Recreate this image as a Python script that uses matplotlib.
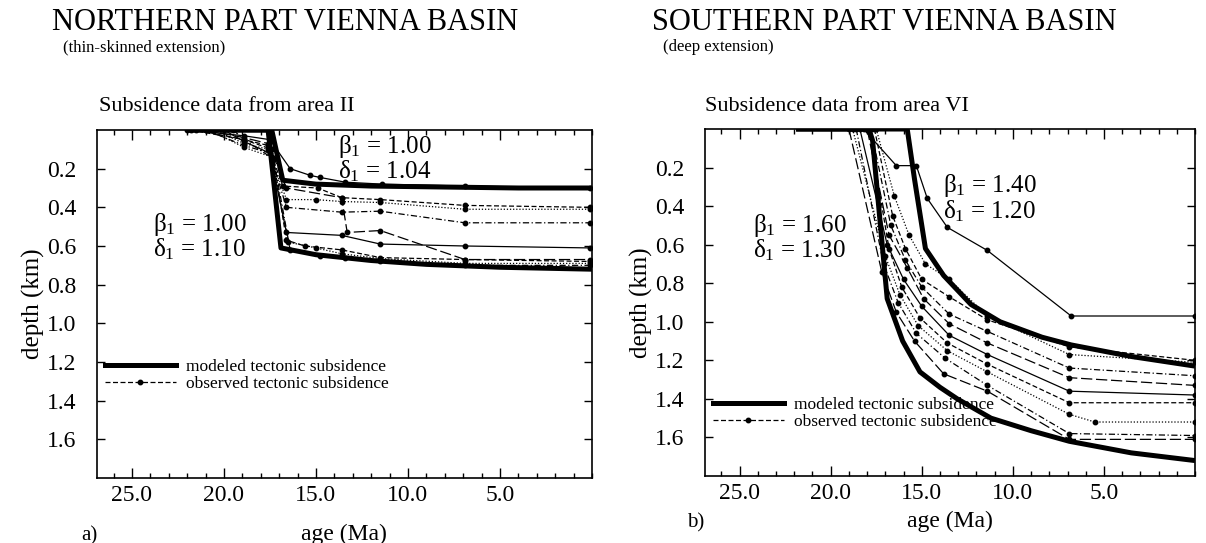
import numpy as np
import matplotlib
matplotlib.use("Agg")
import matplotlib.pyplot as plt
from matplotlib.lines import Line2D

plt.rcParams['font.family'] = ['Liberation Serif', 'DejaVu Serif']
plt.rcParams['mathtext.fontset'] = 'custom'
plt.rcParams['mathtext.rm'] = 'Liberation Serif'
plt.rcParams['mathtext.it'] = 'Liberation Serif'

# ---- data: age (Ma) / depth (km) ----
# northern part, area II
north_model_upper_age = [22.0, 17.4, 16.8, 15.0, 12.0, 8.0, 4.0, 0.0]
north_model_upper_dep = [0.0, 0.0, 0.26, 0.28, 0.29, 0.295, 0.30, 0.30]
north_model_lower_age = [22.0, 17.6, 16.9, 15.0, 12.0, 9.0, 5.0, 0.0]
north_model_lower_dep = [0.0, 0.0, 0.61, 0.645, 0.675, 0.695, 0.71, 0.72]

north_obs_ages = [
    [22.0, 18.9, 17.5, 16.4, 15.3, 14.8, 13.4, 11.4, 6.9, 0.1],
    [21.5, 18.9, 17.6, 16.8, 14.9, 13.6, 11.5, 6.9, 0.1],
    [20.5, 18.9, 17.6, 16.6, 15.0, 13.6, 11.5, 6.9, 0.1],
    [21.0, 18.9, 17.5, 16.6, 13.6, 11.5, 6.9, 0.1],
    [21.0, 18.9, 17.6, 16.6, 13.6, 13.3, 11.5, 6.9, 0.1],
    [20.0, 18.9, 17.5, 16.6, 13.6, 11.5, 6.9, 0.1],
    [21.8, 18.9, 17.4, 16.6, 15.6, 13.6, 11.5, 6.9, 0.1],
    [20.8, 18.9, 17.4, 16.5, 15.0, 13.6, 11.5, 6.9, 0.1],
    [19.5, 18.9, 17.3, 16.4, 14.8, 13.4, 11.5, 6.9, 0.1],
]
north_obs_deps = [
    [0.00, 0.03, 0.05, 0.20, 0.235, 0.245, 0.27, 0.28, 0.29, 0.30],
    [0.00, 0.05, 0.08, 0.29, 0.30, 0.35, 0.36, 0.39, 0.40],
    [0.00, 0.07, 0.10, 0.36, 0.36, 0.37, 0.375, 0.41, 0.41],
    [0.00, 0.08, 0.12, 0.40, 0.425, 0.42, 0.48, 0.48],
    [0.00, 0.04, 0.07, 0.30, 0.35, 0.53, 0.52, 0.67, 0.67],
    [0.00, 0.06, 0.12, 0.53, 0.545, 0.59, 0.60, 0.61],
    [0.00, 0.05, 0.10, 0.57, 0.60, 0.62, 0.66, 0.67, 0.68],
    [0.00, 0.09, 0.14, 0.58, 0.61, 0.64, 0.665, 0.69, 0.69],
    [0.00, 0.05, 0.15, 0.62, 0.65, 0.66, 0.68, 0.70, 0.70],
]

# southern part, area VI
south_model_deep_age = [21.9, 17.9, 17.7, 16.9, 16.05, 15.1, 14.0, 13.05, 11.2, 9.0, 6.9, 3.5, 0.0]
south_model_deep_dep = [0.0, 0.0, 0.06, 0.88, 1.10, 1.26, 1.34, 1.40, 1.50, 1.565, 1.62, 1.68, 1.72]
south_model_shal_age = [21.9, 15.8, 15.4, 14.8, 13.8, 12.3, 10.7, 8.4, 6.8, 3.5, 0.0]
south_model_shal_dep = [0.0, 0.0, 0.26, 0.62, 0.76, 0.91, 1.00, 1.08, 1.12, 1.18, 1.23]

south_obs_ages = [
    [18.2, 16.4, 15.3, 14.7, 13.6, 11.4, 6.8, 0.0],
    [17.6, 16.6, 15.9, 15.0, 13.5, 11.4, 6.9, 0.0],
    [17.5, 16.5, 15.7, 14.8, 13.5, 11.4, 6.9, 0.0],
    [17.8, 16.7, 15.9, 15.0, 13.5, 11.4, 6.9, 0.0],
    [18.0, 16.8, 15.8, 14.9, 13.5, 11.4, 6.9, 0.0],
    [18.4, 16.9, 16.0, 15.0, 13.5, 11.4, 6.9, 0.0],
    [17.9, 16.8, 16.1, 15.1, 13.6, 11.4, 6.9, 0.0],
    [18.8, 17.0, 16.2, 15.2, 13.6, 11.4, 6.9, 5.5, 0.0],
    [18.6, 17.1, 16.3, 15.3, 13.7, 11.4, 6.9, 0.0],
    [19.0, 17.2, 16.4, 15.4, 13.8, 11.4, 6.9, 0.0],
]
south_obs_deps = [
    [0.00, 0.19, 0.19, 0.36, 0.51, 0.63, 0.97, 0.97],
    [0.00, 0.45, 0.62, 0.78, 0.87, 0.99, 1.13, 1.20],
    [0.00, 0.35, 0.55, 0.70, 0.78, 0.97, 1.17, 1.21],
    [0.00, 0.50, 0.68, 0.82, 0.96, 1.05, 1.24, 1.28],
    [0.00, 0.55, 0.72, 0.88, 1.01, 1.11, 1.29, 1.33],
    [0.00, 0.60, 0.78, 0.92, 1.07, 1.17, 1.36, 1.38],
    [0.00, 0.62, 0.82, 0.98, 1.11, 1.22, 1.42, 1.42],
    [0.00, 0.66, 0.86, 1.02, 1.15, 1.26, 1.48, 1.52, 1.52],
    [0.00, 0.70, 0.90, 1.06, 1.19, 1.33, 1.58, 1.59],
    [0.00, 0.74, 0.95, 1.10, 1.27, 1.36, 1.61, 1.61],
]

obs_styles = ['-', (0, (4, 2)), (0, (1, 1.5)), (0, (5, 2, 1, 2)), (0, (9, 3)),
              '-', (0, (4, 2)), (0, (1, 1.5)), (0, (5, 2, 1, 2)), (0, (9, 3))]

fig = plt.figure(figsize=(12.06, 5.43), dpi=100)
ax1 = fig.add_axes([0.0804, 0.1197, 0.4104, 0.6409])
ax2 = fig.add_axes([0.5846, 0.1234, 0.4063, 0.639])


def draw_panel(ax, m_list, obs_a, obs_d, xlabelpad):
    for i in range(len(obs_a)):
        ax.plot(obs_a[i], obs_d[i], color='black', lw=0.9, ls=obs_styles[i % len(obs_styles)],
                marker='o', ms=3.2)
    for a, d in m_list:
        ax.plot(a, d, color='black', lw=3.6, solid_capstyle='butt')
    ax.set_xlim(26.9, 0)
    ax.set_ylim(1.8, 0)
    ax.set_xticks([25, 20, 15, 10, 5])
    ax.set_xticklabels(['25.0', '20.0', '15.0', '10.0', '5.0'])
    ax.set_xticks(np.arange(0, 27, 1), minor=True)
    ax.set_yticks([0.2, 0.4, 0.6, 0.8, 1.0, 1.2, 1.4, 1.6])
    ax.tick_params(axis='both', which='both', direction='in', top=True, right=True,
                   labelsize=17, width=1.0)
    ax.tick_params(axis='x', which='major', length=7, pad=5)
    ax.tick_params(axis='x', which='minor', length=3.5)
    ax.tick_params(axis='y', which='major', length=6, pad=15)
    for s in ax.spines.values():
        s.set_linewidth(1.2)
    ax.set_xlabel('age (Ma)', fontsize=17, labelpad=xlabelpad)
    ax.set_ylabel('depth (km)', fontsize=18, labelpad=1)
    handles = [Line2D([], [], color='black', lw=3.6),
               Line2D([], [], color='black', lw=0.9, ls=(0, (4, 2)), marker='o', ms=3.2)]
    return handles


leg_kw = dict(loc='upper left', frameon=False, fontsize=12.5, handlelength=4.1,
              handletextpad=0.55, labelspacing=0.05, borderaxespad=0, borderpad=0)

h = draw_panel(ax1, [(north_model_upper_age, north_model_upper_dep),
                     (north_model_lower_age, north_model_lower_dep)],
               north_obs_ages, north_obs_deps, 13)
ax1.legend(h, ['modeled tectonic subsidence', 'observed tectonic subsidence'],
           bbox_to_anchor=(0.016, 0.343), **leg_kw)

h = draw_panel(ax2, [(south_model_deep_age, south_model_deep_dep),
                     (south_model_shal_age, south_model_shal_dep)],
               south_obs_ages, south_obs_deps, 5)
ax2.legend(h, ['modeled tectonic subsidence', 'observed tectonic subsidence'],
           bbox_to_anchor=(0.016, 0.228), **leg_kw)

# parameter labels (beta / delta pairs)
par_kw = dict(fontsize=18, va='center', linespacing=0.95)
ax1.text(0.487, 0.918, 'β$_1$ = 1.00\nδ$_1$ = 1.04', transform=ax1.transAxes, **par_kw)
ax1.text(0.113, 0.694, 'β$_1$ = 1.00\nδ$_1$ = 1.10', transform=ax1.transAxes, **par_kw)
ax2.text(0.485, 0.801, 'β$_1$ = 1.40\nδ$_1$ = 1.20', transform=ax2.transAxes, **par_kw)
ax2.text(0.098, 0.687, 'β$_1$ = 1.60\nδ$_1$ = 1.30', transform=ax2.transAxes, **par_kw)

# titles
fig.text(52 / 1206, 1 - 30 / 543, 'NORTHERN PART VIENNA BASIN', fontsize=22, va='baseline')
fig.text(63 / 1206, 1 - 51 / 543, '(thin-skinned extension)', fontsize=12, va='baseline')
fig.text(99 / 1206, 1 - 111 / 543, 'Subsidence data from area II', fontsize=16, va='baseline')
fig.text(652 / 1206, 1 - 30 / 543, 'SOUTHERN PART VIENNA BASIN', fontsize=22, va='baseline')
fig.text(663 / 1206, 1 - 51 / 543, '(deep extension)', fontsize=12, va='baseline')
fig.text(705 / 1206, 1 - 111 / 543, 'Subsidence data from area VI', fontsize=16, va='baseline')
fig.text(81 / 1206, 1 - 540 / 543, 'a)', fontsize=15, va='baseline')
fig.text(687 / 1206, 1 - 527 / 543, 'b)', fontsize=15, va='baseline')

fig.savefig('out.png', dpi=100)
